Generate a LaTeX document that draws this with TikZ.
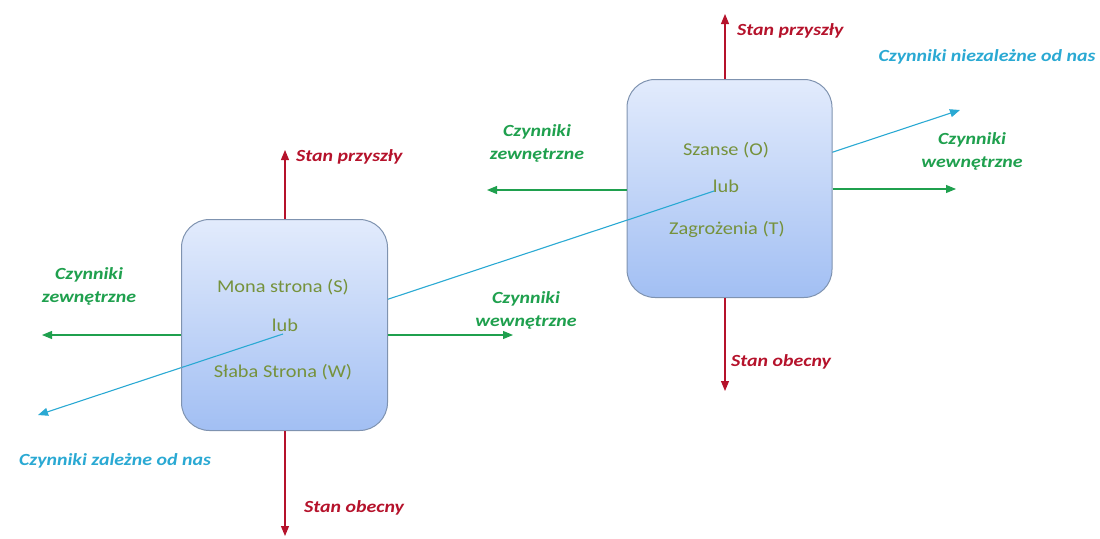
\documentclass[tikz,border=0pt]{standalone}
\usepackage{fontspec}
\setmainfont{Carlito}
\newfontfamily\labfont{Carlito}[FakeStretch=1.17]
\newfontfamily\boxfont{Carlito}[FakeStretch=1.13]
\usetikzlibrary{arrows.meta}
\definecolor{redc}{HTML}{B5122B}
\definecolor{greenc}{HTML}{1FA04E}
\definecolor{cyanc}{HTML}{2AA9D3}
\definecolor{olivec}{HTML}{76923C}
\definecolor{boxtop}{HTML}{E2EBFC}
\definecolor{boxbot}{HTML}{A2BFF3}
\definecolor{boxline}{HTML}{7F93B0}
\tikzset{
  swotbox/.style={rectangle, rounded corners=28pt, draw=boxline, line width=1pt,
    top color=boxtop, bottom color=boxbot, inner sep=0pt},
  boxtext/.style={text=olivec, font=\boxfont\fontsize{18}{20}\selectfont, inner sep=0pt},
  tip/.style={-{Triangle[length=10pt,width=8pt]}},
  redarrow/.style={tip, draw=redc, line width=1.1pt},
  greenarrow/.style={tip, draw=greenc, line width=1.1pt},
  cyanarrow/.style={draw=cyanc, line width=1.1pt},
  lab/.style={font=\labfont\fontsize{17}{23}\selectfont\bfseries\itshape, inner sep=0pt, align=center},
}
\begin{document}
\begin{tikzpicture}[x=1pt,y=-1pt]
\useasboundingbox (0,0) rectangle (1100,538);
% cyan line behind boxes
\coordinate (cl) at (38,415);
\coordinate (cr) at (960,110);
\draw[cyanarrow, {Triangle[length=10pt,width=8pt]}-{Triangle[length=10pt,width=8pt]}] (cl) -- (cr);
% boxes
\node[swotbox, minimum width=206pt, minimum height=211pt] (b1) at (284.5,325) {};
\node[swotbox, minimum width=205pt, minimum height=218pt] (b2) at (729.5,188.5) {};
% box texts
\node[boxtext] (s1) at (283,287) {Mona strona (S)};
\node[boxtext] (l1) at (285,325) {lub};
\node[boxtext] (w1) at (283,372) {Słaba Strona (W)};
\node[boxtext] (o2) at (726,150) {Szanse (O)};
\node[boxtext] (l2) at (726,186) {lub};
\node[boxtext] (t2) at (727,229) {Zagrożenia (T)};
% cyan segments visible inside boxes
\coordinate (c1in) at (182,367.4);
\coordinate (c1end) at (283,334);
\coordinate (c2in) at (627,220.2);
\coordinate (c2end) at (714,191);
\draw[cyanarrow] (c1in) -- (c1end);
\draw[cyanarrow] (c2in) -- (c2end);
% red arrows
\coordinate (r1t) at (285,150);
\coordinate (r1b) at (285,536);
\coordinate (r2t) at (725,14);
\coordinate (r2b) at (725,391);
\draw[redarrow] (b1.north -| r1t) -- (r1t);
\draw[redarrow] (b1.south -| r1b) -- (r1b);
\draw[redarrow] (b2.north -| r2t) -- (r2t);
\draw[redarrow] (b2.south -| r2b) -- (r2b);
% green arrows
\coordinate (g1l) at (42,335);
\coordinate (g1r) at (513,335);
\coordinate (g2l) at (487,190);
\coordinate (g2r) at (956,189);
\draw[greenarrow] (b1.west |- g1l) -- (g1l);
\draw[greenarrow] (b1.east |- g1r) -- (g1r);
\draw[greenarrow] (b2.west |- g2l) -- (g2l);
\draw[greenarrow] (b2.east |- g2r) -- (g2r);
% labels
\node[lab, text=redc, anchor=west] (sp1) at (296,157) {Stan przyszły};
\node[lab, text=redc, anchor=west] (so1) at (304,508) {Stan obecny};
\node[lab, text=redc, anchor=west] (sp2) at (737,31) {Stan przyszły};
\node[lab, text=redc, anchor=west] (so2) at (731,362) {Stan obecny};
\node[lab, text=greenc] (z1) at (89,286) {Czynniki\\zewnętrzne};
\node[lab, text=greenc] (w1l) at (526,310) {Czynniki\\wewnętrzne};
\node[lab, text=greenc] (z2) at (537,143) {Czynniki\\zewnętrzne};
\node[lab, text=greenc] (w2l) at (972,151) {Czynniki\\wewnętrzne};
\node[lab, text=cyanc] (zn) at (115,461) {Czynniki zależne od nas};
\node[lab, text=cyanc] (nzn) at (987,57) {Czynniki niezależne od nas};
\end{tikzpicture}
\end{document}
